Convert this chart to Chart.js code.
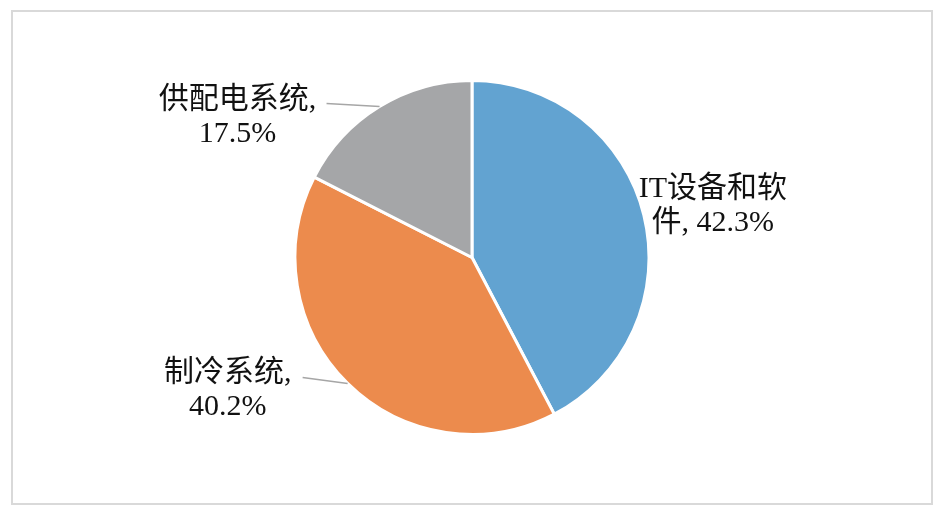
<!DOCTYPE html>
<html>
<head>
<meta charset="utf-8">
<script src="https://cdn.jsdelivr.net/npm/chart.js@4"></script>
<style>
  html, body { margin: 0; padding: 0; background: #fff; }
  #wrap { width: 945px; height: 513px; }
</style>
</head>
<body>
<div id="wrap"><canvas id="costPie" width="945" height="513"></canvas></div>
<script>
// data
const categories = ['IT设备和软件', '制冷系统', '供配电系统'];
const shares = [42.3, 40.2, 17.5];
const sliceColors = ['#62a3d1', '#ec8b4d', '#a5a6a8'];
// where each label wraps onto the second line
const labelBreaks = [6, 5, 6];

// label placement relative to the slice edge at mid-angle
const labelLayout = [
  { dx: 69, dy: -18, leader: null },
  { dx: -120, dy: -2, leader: [-45, -6] },
  { dx: -142, dy: 1, leader: [-53, -3] }
];

const FONT = '30px "Liberation Serif", "Noto Sans CJK SC", serif';

const framePlugin = {
  id: 'frame',
  beforeDraw(chart) {
    const c = chart.ctx;
    c.save();
    c.strokeStyle = '#d9d9d9';
    c.lineWidth = 2;
    c.strokeRect(12, 11, 920, 493);
    c.restore();
  }
};

const labelPlugin = {
  id: 'sliceLabels',
  afterDatasetsDraw(chart) {
    const c = chart.ctx;
    const meta = chart.getDatasetMeta(0);
    c.save();
    c.font = FONT;
    c.fillStyle = '#111';
    c.textAlign = 'center';
    c.textBaseline = 'alphabetic';
    meta.data.forEach((arc, i) => {
      const p = arc.getProps(['x', 'y', 'startAngle', 'endAngle', 'outerRadius'], true);
      const mid = (p.startAngle + p.endAngle) / 2;
      const ex = p.x + Math.cos(mid) * p.outerRadius;
      const ey = p.y + Math.sin(mid) * p.outerRadius;
      const lay = labelLayout[i];

      if (lay.leader) {
        c.strokeStyle = '#a6a6a6';
        c.lineWidth = 1.5;
        c.beginPath();
        c.moveTo(ex, ey);
        c.lineTo(ex + lay.leader[0], ey + lay.leader[1]);
        c.stroke();
      }

      const full = categories[i] + ', ' + shares[i].toFixed(1) + '%';
      const lines = [full.slice(0, labelBreaks[i]), full.slice(labelBreaks[i]).trim()];
      lines.forEach((t, k) => {
        c.fillText(t, ex + lay.dx, ey + lay.dy + k * 34);
      });
    });
    c.restore();
  }
};

const ctx = document.getElementById('costPie').getContext('2d');
new Chart(ctx, {
  type: 'pie',
  data: {
    labels: categories,
    datasets: [{
      data: shares,
      backgroundColor: sliceColors,
      borderColor: '#ffffff',
      borderWidth: 3
    }]
  },
  options: {
    responsive: false,
    animation: false,
    layout: {
      padding: { top: 79, bottom: 77, left: 100, right: 101 }
    },
    plugins: {
      legend: { display: false },
      tooltip: { enabled: false }
    }
  },
  plugins: [framePlugin, labelPlugin]
});
</script>
</body>
</html>
